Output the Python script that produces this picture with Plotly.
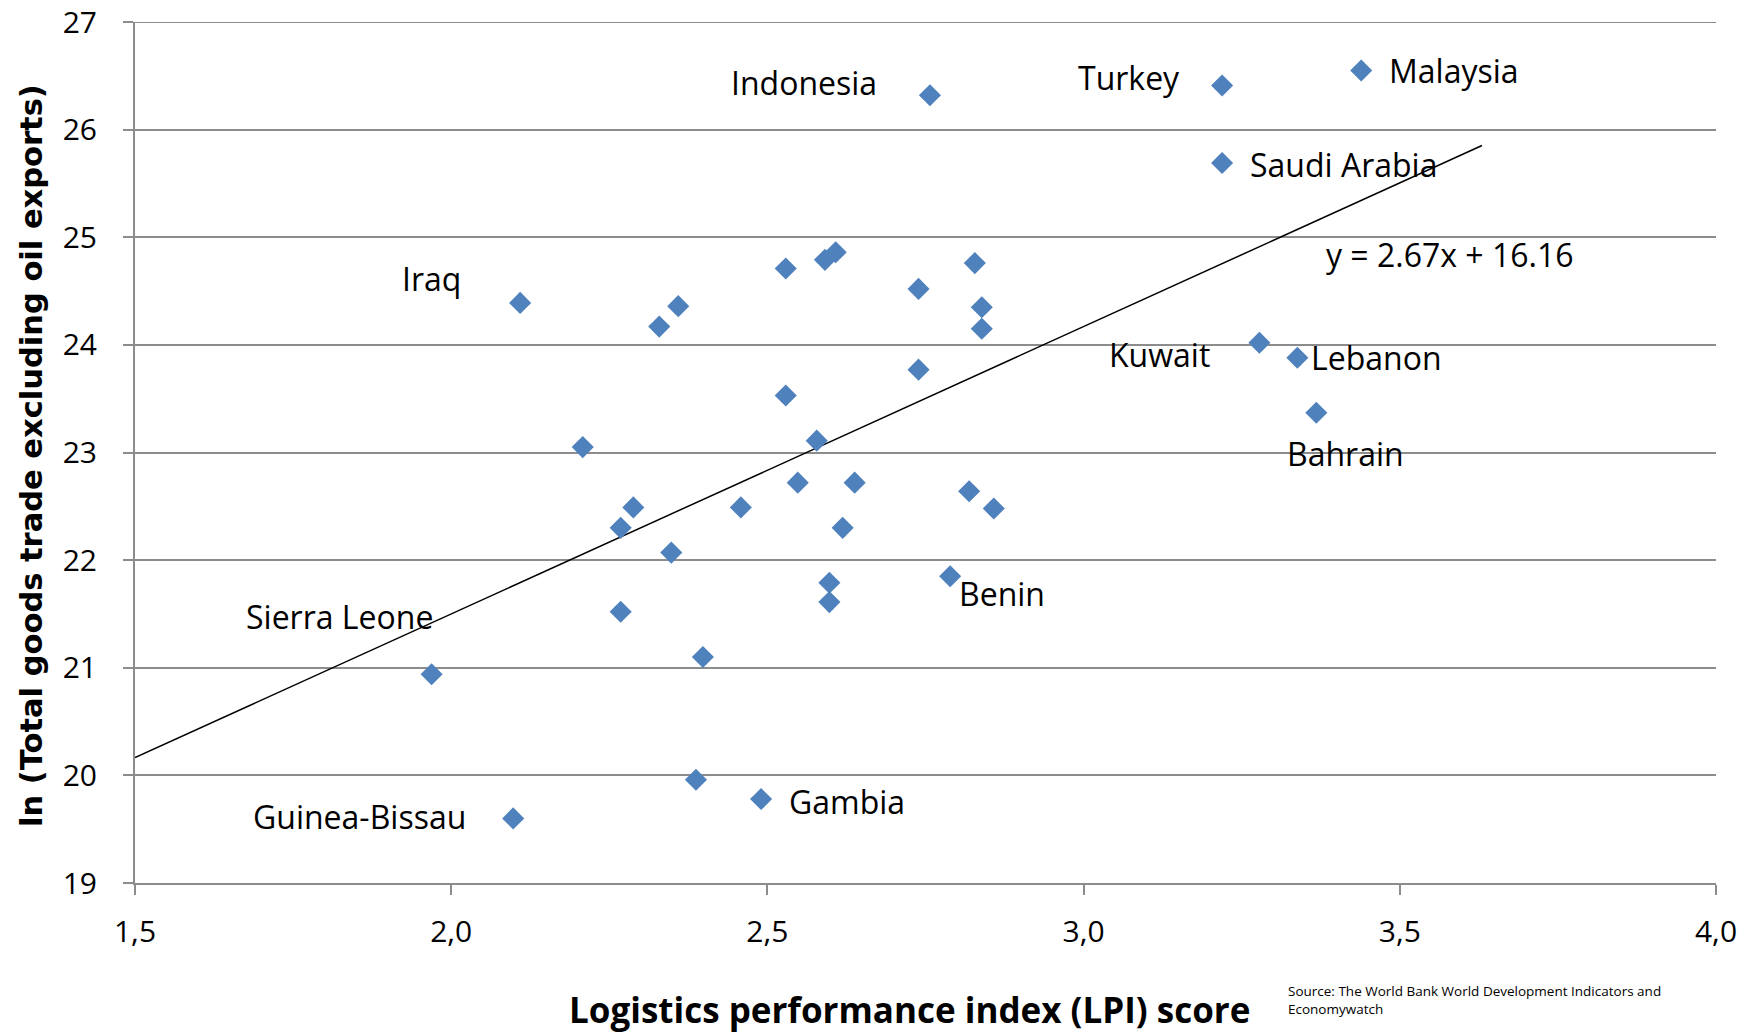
import plotly.graph_objects as go

# Data (LPI score, ln trade)
lpi = [3.439, 3.219, 2.757, 3.219, 2.608, 2.591, 2.529, 2.828, 2.739, 2.839,
       2.839, 2.109, 2.359, 2.329, 3.278, 3.338, 2.739, 2.529, 3.368, 2.578,
       2.208, 2.548, 2.638, 2.819, 2.288, 2.458, 2.858, 2.268, 2.619, 2.348,
       2.789, 2.598, 2.598, 2.268, 2.398, 1.969, 2.387, 2.490, 2.098]
ln_trade = [26.55, 26.41, 26.32, 25.69, 24.86, 24.79, 24.71, 24.76, 24.52, 24.35,
            24.15, 24.39, 24.36, 24.17, 24.02, 23.88, 23.77, 23.53, 23.37, 23.11,
            23.05, 22.72, 22.72, 22.64, 22.49, 22.49, 22.48, 22.30, 22.30, 22.07,
            21.85, 21.79, 21.61, 21.52, 21.10, 20.94, 19.96, 19.78, 19.60]
country = ["Malaysia", "Turkey", "Indonesia", "Saudi Arabia", "", "", "", "", "", "",
           "", "Iraq", "", "", "Kuwait", "Lebanon", "", "", "Bahrain", "",
           "", "", "", "", "", "", "", "", "", "",
           "Benin", "", "", "", "", "Sierra Leone", "", "Gambia", "Guinea-Bissau"]

slope = 2.67
intercept = 16.16
trend_x = [1.5, 3.63]
trend_y = [slope * v + intercept for v in trend_x]

x_ticks = [1.5, 2.0, 2.5, 3.0, 3.5, 4.0]
y_ticks = [19, 20, 21, 22, 23, 24, 25, 26, 27]

x_title = "Logistics performance index (LPI) score"
y_title = "ln (Total goods trade excluding oil exports)"
source = "Source: The World Bank World Development Indicators and<br>Economywatch"

# label placement (anchor, xshift, yshift)
label_style = {
    "Malaysia": ("left", 26, 0),
    "Turkey": ("right", -40, 8),
    "Indonesia": ("right", -51, 13),
    "Saudi Arabia": ("left", 26, -2),
    "Iraq": ("right", -57, 24),
    "Kuwait": ("right", -47, -12),
    "Lebanon": ("left", 12, 0),
    "Bahrain": ("center", 29, -41),
    "Benin": ("left", 7, -17),
    "Sierra Leone": ("right", 3, 58),
    "Gambia": ("left", 26, -2),
    "Guinea-Bissau": ("right", -45, 2),
}

FONT = "Open Sans"
GRID = "#8c8c8c"
OFF = 8  # default page body margin
W, H = 1755 - OFF, 1035 - OFF
ml, mr, mt, mb = 135 - OFF, 39, 22 - OFF, 152
pw, ph = W - ml - mr, H - mt - mb


def px_to_paper(px, py):
    # px, py are window pixel coordinates
    px -= OFF
    py -= OFF
    return (px - ml) / pw, (H - mb - py) / ph


fig = go.Figure()
fig.add_trace(go.Scatter(x=trend_x, y=trend_y, mode="lines",
                         line=dict(color="black", width=1.5), hoverinfo="skip"))
fig.add_trace(go.Scatter(x=lpi, y=ln_trade, mode="markers",
                         marker=dict(symbol="diamond", size=17, color="#4F81BD",
                                     line=dict(width=0))))

annotations = []
for xv, yv, name in zip(lpi, ln_trade, country):
    if not name:
        continue
    anchor, xs, ys = label_style[name]
    annotations.append(dict(x=xv, y=yv, xref="x", yref="y", text=name, showarrow=False,
                            xanchor=anchor, yanchor="middle", xshift=xs, yshift=ys,
                            font=dict(family=FONT, size=32, color="black")))

annotations.append(dict(x=3.38, y=24.84, xref="x", yref="y",
                        text=f"y = {slope:.2f}x + {intercept:.2f}", showarrow=False,
                        xanchor="left", yanchor="middle",
                        font=dict(family=FONT, size=32, color="black")))

sx, sy = px_to_paper(1286, 980)
annotations.append(dict(x=sx, y=sy, xref="paper", yref="paper", text=source,
                        showarrow=False, xanchor="left", yanchor="top", align="left",
                        font=dict(family=FONT, size=13.5, color="black")))

tx, ty = px_to_paper(909, 1010)
annotations.append(dict(x=tx, y=ty, xref="paper", yref="paper", text=f"<b>{x_title}</b>",
                        showarrow=False, xanchor="center", yanchor="middle",
                        font=dict(family=FONT, size=35, color="black")))

yx, yy = px_to_paper(31, 456)
annotations.append(dict(x=yx, y=yy, xref="paper", yref="paper", text=f"<b>{y_title}</b>",
                        showarrow=False, xanchor="center", yanchor="middle", textangle=-90,
                        font=dict(family="DejaVu Sans", size=30.5, color="black")))

fig.update_layout(
    width=W, height=H,
    margin=dict(l=ml, r=mr, t=mt, b=mb, autoexpand=False),
    paper_bgcolor="white", plot_bgcolor="white",
    showlegend=False,
    separators=", ",
    annotations=annotations,
    font=dict(family=FONT, color="black"),
)
# top gridline at the upper end of the y range (plotly omits it at the edge)
fig.add_shape(type="line", xref="paper", x0=0, x1=1, yref="y",
              y0=y_ticks[-1], y1=y_ticks[-1], line=dict(color=GRID, width=2), layer="below")
fig.update_xaxes(range=[1.5, 4.0], tickvals=x_ticks, tickformat=".1f", automargin=False,
                 showgrid=False, zeroline=False,
                 showline=True, linecolor=GRID, linewidth=2,
                 ticks="outside", ticklen=10, tickcolor=GRID, tickwidth=1.5,
                 ticklabelstandoff=11, ticklabeloverflow="allow",
                 tickfont=dict(family=FONT, size=30, color="black"))
fig.update_yaxes(range=[19, 27], tickvals=y_ticks, automargin=False,
                 showgrid=True, gridcolor=GRID, gridwidth=1.5, zeroline=False,
                 showline=True, linecolor=GRID, linewidth=2,
                 ticks="outside", ticklen=10, tickcolor=GRID, tickwidth=1.5,
                 ticklabelstandoff=20, ticklabeloverflow="allow",
                 tickfont=dict(family=FONT, size=30, color="black"))

fig.write_html("out.html")
